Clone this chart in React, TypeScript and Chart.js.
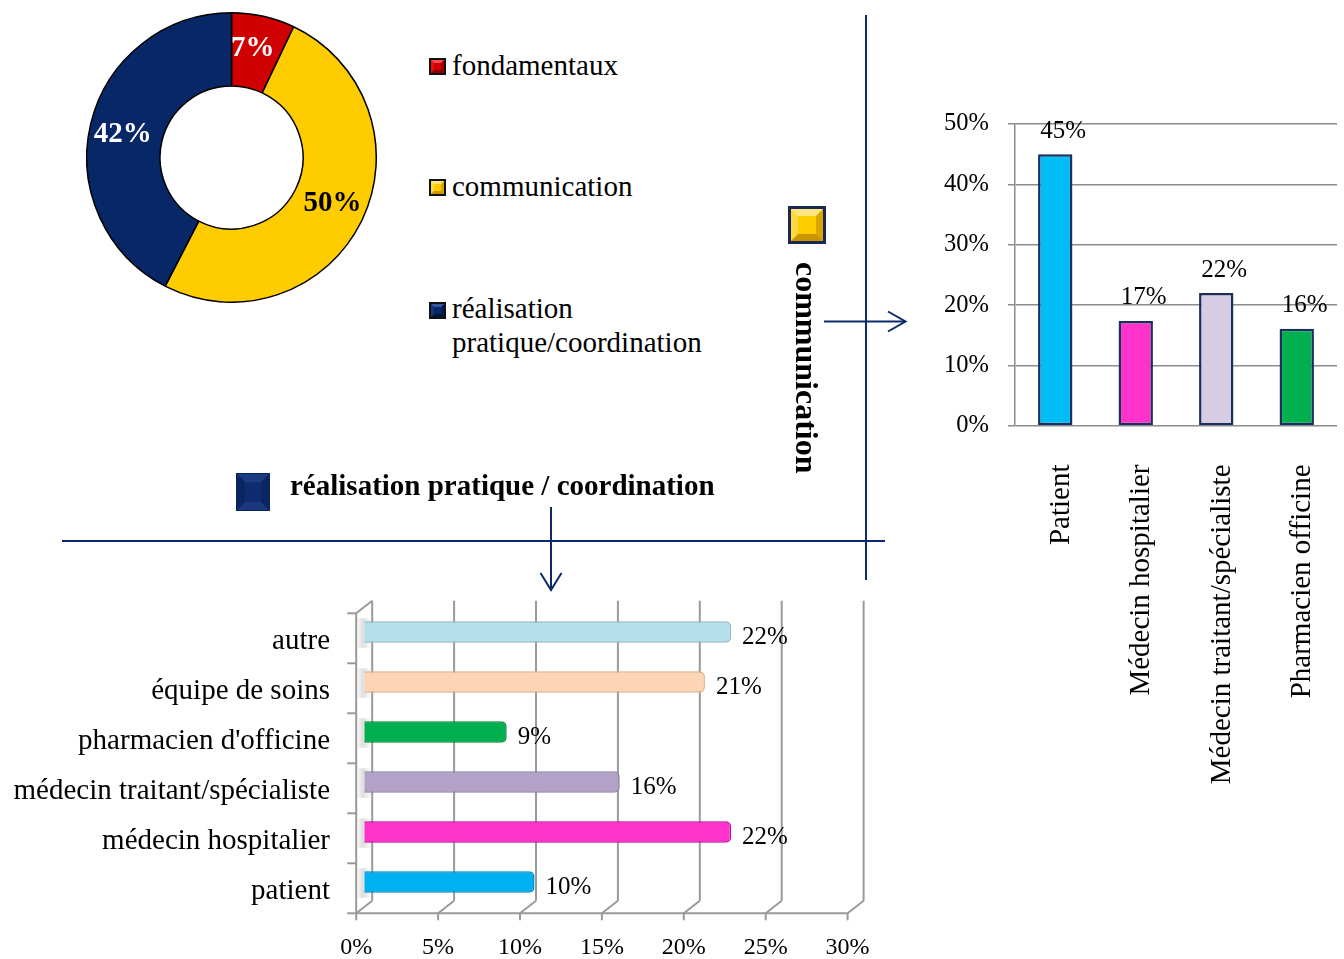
import React, { useEffect, useRef } from "react";
import { Chart, registerables } from "chart.js";

Chart.register(...registerables);

const FONT = '"Liberation Serif", "Times New Roman", Times, serif';
Chart.defaults.font.family = FONT;
Chart.defaults.color = "#000";

// ---------- Data ----------
const pieCategories = ["fondamentaux", "communication", "réalisation pratique/coordination"];
const pieValues = [7, 50, 42];
const pieColors = ["#D00000", "#FFCC00", "#082767"];
const pieLabelColors = ["#FFFFFF", "#000000", "#FFFFFF"];

const commCategories = ["Patient", "Médecin hospitalier", "Médecin traitant/spécialiste", "Pharmacien officine"];
const commValues = [45, 17.4, 22, 16.1];
const commColors = ["#00BDF6", "#FF33CC", "#D6CCE4", "#00B050"];
const commTicks = [0, 10, 20, 30, 40, 50];

const coordCategories = [
  "autre",
  "équipe de soins",
  "pharmacien d'officine",
  "médecin traitant/spécialiste",
  "médecin hospitalier",
  "patient",
];
const coordValues = [22.4, 20.8, 8.7, 15.6, 22.4, 10.4];
const coordColors = ["#B5DFEA", "#FCD5B4", "#00B050", "#B3A2C7", "#FF33CC", "#00B0F0"];
const coordBorders = ["#8DB6C3", "#D9AE8C", "#00893D", "#8F7BA8", "#C70098", "#0089C0"];
const coordTicks = [0, 5, 10, 15, 20, 25, 30];

const NAVY = "#0B2A6B";

const zeroPad = (s: any) => {
  s.paddingLeft = 0;
  s.paddingRight = 0;
  s.paddingTop = 0;
  s.paddingBottom = 0;
};

// ---------- Plugins ----------
const pieLabelPlugin = {
  id: "pieLabels",
  afterDatasetsDraw(chart: any) {
    const ctx = chart.ctx;
    const meta = chart.getDatasetMeta(0);
    ctx.save();
    ctx.font = `bold 29px ${FONT}`;
    ctx.textAlign = "center";
    ctx.textBaseline = "middle";
    meta.data.forEach((arc: any, i: number) => {
      const p = arc.getProps(["x", "y", "startAngle", "endAngle", "innerRadius", "outerRadius"], true);
      const mid = (p.startAngle + p.endAngle) / 2 - 0.03;
      const r = (p.innerRadius + p.outerRadius) / 2 + 3;
      ctx.fillStyle = pieLabelColors[i];
      ctx.fillText(pieValues[i] + "%", p.x + Math.cos(mid) * r, p.y + Math.sin(mid) * r);
    });
    ctx.restore();
  },
};

const commLabelPlugin = {
  id: "commLabels",
  afterDatasetsDraw(chart: any) {
    const ctx = chart.ctx;
    const meta = chart.getDatasetMeta(0);
    ctx.save();
    ctx.font = `25px ${FONT}`;
    ctx.fillStyle = "#000";
    ctx.textAlign = "center";
    ctx.textBaseline = "middle";
    meta.data.forEach((bar: any, i: number) => {
      ctx.fillText(Math.round(commValues[i]) + "%", bar.x + 8, bar.y - 23);
    });
    ctx.restore();
  },
};

const DX = 8;
const DY = 6.3;

const frame3dPlugin = {
  id: "frame3d",
  beforeDatasetsDraw(chart: any) {
    const { ctx, chartArea: ca, scales } = chart;
    const xs = scales.x;
    const ys = scales.y;
    const backTop = ca.top - DY;
    const backBottom = ca.bottom - DY;
    const frontTop = ca.top + DY;
    const frontBottom = ca.bottom + DY;
    const line = (x1: number, y1: number, x2: number, y2: number) => {
      ctx.beginPath();
      ctx.moveTo(x1, y1);
      ctx.lineTo(x2, y2);
      ctx.stroke();
    };
    ctx.save();
    const meta = chart.getDatasetMeta(0);
    const x0 = xs.getPixelForValue(0);
    meta.data.forEach((bar: any) => {
      const h = bar.height;
      const g = ctx.createLinearGradient(x0 - DX, 0, x0 + DX, 0);
      g.addColorStop(0, "rgba(0,0,0,0.0)");
      g.addColorStop(0.4, "rgba(0,0,0,0.13)");
      g.addColorStop(1, "rgba(0,0,0,0)");
      ctx.fillStyle = g;
      ctx.fillRect(x0 - DX + 1, bar.y - h / 2 - 3, 2 * DX, h + 8);
    });
    ctx.strokeStyle = "#9A9A9A";
    ctx.lineWidth = 2;
    xs.ticks.forEach((t: any) => {
      const px = xs.getPixelForValue(t.value);
      line(px + DX, backTop, px + DX, backBottom);
      line(px + DX, backBottom, px - DX, frontBottom);
      line(px - DX, frontBottom, px - DX, frontBottom + 7);
    });
    const xMinPx = xs.getPixelForValue(xs.min);
    const xMaxPx = xs.getPixelForValue(xs.max);
    line(xMinPx - DX, frontBottom, xMaxPx - DX, frontBottom);
    line(x0 - DX, frontTop, x0 - DX, frontBottom);
    line(x0 - DX, frontTop, x0 + DX, backTop);
    const n = ys.ticks.length;
    const band = (ca.bottom - ca.top) / n;
    for (let k = 0; k <= n; k++) {
      const yy = frontTop + k * band;
      line(x0 - DX - 9, yy, x0 - DX, yy);
    }
    ctx.restore();
  },
  afterDatasetsDraw(chart: any) {
    const ctx = chart.ctx;
    const meta = chart.getDatasetMeta(0);
    ctx.save();
    ctx.font = `25px ${FONT}`;
    ctx.fillStyle = "#000";
    ctx.textAlign = "left";
    ctx.textBaseline = "middle";
    meta.data.forEach((bar: any, i: number) => {
      ctx.fillText(Math.round(coordValues[i]) + "%", bar.x + 11, bar.y + 5);
    });
    ctx.restore();
  },
};

// ---------- Components ----------
function DoughnutChart() {
  const ref = useRef<HTMLCanvasElement | null>(null);
  useEffect(() => {
    if (!ref.current) return;
    const chart = new Chart(ref.current, {
      type: "doughnut",
      data: {
        labels: pieCategories,
        datasets: [
          {
            data: pieValues,
            backgroundColor: pieColors,
            borderColor: "#000",
            borderWidth: 1.5,
            hoverBorderWidth: 1.5,
            hoverOffset: 0,
            offset: 0,
          } as any,
        ],
      },
      options: {
        animation: false,
        responsive: false,
        cutout: "49.4%",
        layout: { padding: 0 },
        events: [],
        plugins: { legend: { display: false }, tooltip: { enabled: false } },
      } as any,
      plugins: [pieLabelPlugin],
    });
    return () => chart.destroy();
  }, []);
  return (
    <canvas
      ref={ref}
      width={291}
      height={291}
      style={{ position: "absolute", left: 86, top: 12, width: 291, height: 291 }}
    />
  );
}

function CommChart() {
  const ref = useRef<HTMLCanvasElement | null>(null);
  useEffect(() => {
    if (!ref.current) return;
    const chart = new Chart(ref.current, {
      type: "bar",
      data: {
        labels: commCategories,
        datasets: [
          {
            data: commValues,
            backgroundColor: commColors,
            borderColor: "#1B2F5E",
            borderWidth: 2.5,
            borderSkipped: false,
            barPercentage: 0.427,
            categoryPercentage: 1,
          } as any,
        ],
      },
      options: {
        animation: false,
        responsive: false,
        events: [],
        layout: { padding: { top: 24, right: 7, left: 0, bottom: 0 } },
        plugins: { legend: { display: false }, tooltip: { enabled: false } },
        scales: {
          x: {
            grid: { display: false, drawTicks: false },
            border: { display: false },
            ticks: {
              font: { size: 29, family: FONT },
              color: "#000",
              minRotation: 90,
              maxRotation: 90,
              autoSkip: false,
              padding: 38.5,
              labelOffset: 6,
            },
            afterFit: (s: any) => {
              s.height = 374;
              zeroPad(s);
            },
          },
          y: {
            min: 0,
            max: 50,
            afterBuildTicks: (s: any) => {
              s.ticks = commTicks.map((v) => ({ value: v }));
            },
            ticks: {
              callback: (v: any) => v + "%",
              font: { size: 24.5, family: FONT },
              color: "#000",
              padding: 19,
            },
            grid: { color: "#8C8C8C", lineWidth: 1.5, tickLength: 7, drawTicks: true },
            border: { display: true, color: "#8C8C8C", width: 1.5 },
            afterFit: (s: any) => {
              s.width = 85;
              zeroPad(s);
            },
          },
        },
      } as any,
      plugins: [commLabelPlugin],
    });
    return () => chart.destroy();
  }, []);
  return (
    <canvas
      ref={ref}
      width={414}
      height={700}
      style={{ position: "absolute", left: 930, top: 100, width: 414, height: 700 }}
    />
  );
}

function CoordChart() {
  const ref = useRef<HTMLCanvasElement | null>(null);
  useEffect(() => {
    if (!ref.current) return;
    const chart = new Chart(ref.current, {
      type: "bar",
      data: {
        labels: coordCategories,
        datasets: [
          {
            data: coordValues,
            backgroundColor: coordColors,
            borderColor: coordBorders,
            borderWidth: 1.5,
            borderRadius: 5,
            borderSkipped: "start",
            barPercentage: 0.43,
            categoryPercentage: 1,
          } as any,
        ],
      },
      options: {
        indexAxis: "y",
        animation: false,
        responsive: false,
        events: [],
        layout: { padding: { top: 17, right: 24.4, left: 0, bottom: 0 } },
        plugins: { legend: { display: false }, tooltip: { enabled: false } },
        scales: {
          x: {
            min: 0,
            max: 30,
            afterBuildTicks: (s: any) => {
              s.ticks = coordTicks.map((v) => ({ value: v }));
            },
            ticks: {
              callback: (v: any) => v + "%",
              font: { size: 24, family: FONT },
              color: "#000",
              padding: 26,
              labelOffset: -DX,
            },
            grid: { display: false, drawTicks: false },
            border: { display: false },
            afterFit: (s: any) => {
              s.height = 52;
              zeroPad(s);
            },
          },
          y: {
            ticks: {
              font: { size: 29, family: FONT },
              color: "#000",
              padding: 34.2,
              labelOffset: 9,
              autoSkip: false,
            },
            grid: { display: false, drawTicks: false },
            border: { display: false },
            afterFit: (s: any) => {
              s.width = 364.2;
              zeroPad(s);
            },
          },
        },
      } as any,
      plugins: [frame3dPlugin],
    });
    return () => chart.destroy();
  }, []);
  return (
    <canvas
      ref={ref}
      width={880}
      height={369}
      style={{ position: "absolute", left: 0, top: 590, width: 880, height: 369 }}
    />
  );
}

type BevelProps = {
  left: number;
  top: number;
  w: number;
  h: number;
  outer: string;
  outerW: number;
  bevel: number;
  face: string;
  light: string;
  side: string;
  dark: string;
  side2: string;
};

function BevelSquare(p: BevelProps) {
  return (
    <div
      style={{
        position: "absolute",
        left: p.left,
        top: p.top,
        width: p.w,
        height: p.h,
        boxSizing: "border-box",
        border: `${p.outerW}px solid ${p.outer}`,
        background: p.face,
      }}
    >
      <div
        style={{
          width: "100%",
          height: "100%",
          boxSizing: "border-box",
          borderStyle: "solid",
          borderWidth: p.bevel,
          borderColor: `${p.light} ${p.side} ${p.dark} ${p.side2}`,
          background: p.face,
        }}
      />
    </div>
  );
}

const legendTops = [48, 169, 291];
const legendSquareTops = [58, 179, 302];
const legendBevel = [
  { light: "#FF4A4A", side: "#A00000", dark: "#8A0000", side2: "#E01010" },
  { light: "#FFE680", side: "#D9A600", dark: "#C99600", side2: "#FFD940" },
  { light: "#3658A0", side: "#061C4C", dark: "#04143A", side2: "#16367A" },
];

function Legend() {
  return (
    <>
      {pieCategories.map((c, i) => (
        <React.Fragment key={c}>
          <BevelSquare
            left={429}
            top={legendSquareTops[i]}
            w={17}
            h={17}
            outer="#111"
            outerW={2}
            bevel={3}
            face={pieColors[i]}
            {...legendBevel[i]}
          />
          <div
            style={{
              position: "absolute",
              left: 452,
              top: legendTops[i],
              width: 262,
              fontFamily: FONT,
              fontSize: 29,
              lineHeight: "34px",
              color: "#000",
            }}
          >
            {c}
          </div>
        </React.Fragment>
      ))}
    </>
  );
}

function Overlay() {
  return (
    <svg
      width={1344}
      height={959}
      style={{ position: "absolute", left: 0, top: 0, pointerEvents: "none" }}
    >
      <g stroke={NAVY} strokeWidth={2} fill="none">
        <line x1={866} y1={15} x2={866} y2={580} />
        <line x1={62} y1={541} x2={885} y2={541} />
        <line x1={824} y1={321.5} x2={905} y2={321.5} />
        <polyline points="888,311.5 905.5,321.5 888,331.5" />
        <line x1={551} y1={507} x2={551} y2={589} />
        <polyline points="540.5,573 551,590 561.5,573" />
      </g>
    </svg>
  );
}

export default function App() {
  return (
    <div
      style={{
        position: "absolute",
        left: 0,
        top: 0,
        width: 1344,
        height: 959,
        background: "#fff",
        overflow: "hidden",
        fontFamily: FONT,
      }}
    >
      <DoughnutChart />
      <Legend />
      <CommChart />
      <CoordChart />
      <Overlay />
      <BevelSquare
        left={788}
        top={206}
        w={38}
        h={38}
        outer="#1B2A55"
        outerW={3}
        bevel={7}
        face="#FFCC00"
        light="#FFE680"
        side="#D9A600"
        dark="#C99600"
        side2="#FFD940"
      />
      <div
        style={{
          position: "absolute",
          left: 823,
          top: 262,
          transform: "rotate(90deg)",
          transformOrigin: "0 0",
          whiteSpace: "nowrap",
          fontFamily: FONT,
          fontWeight: "bold",
          fontSize: 32,
          lineHeight: "32px",
          color: "#000",
        }}
      >
        communication
      </div>
      <BevelSquare
        left={236}
        top={473}
        w={34}
        h={38}
        outer="#0A2260"
        outerW={1}
        bevel={8}
        face="#0E2C6E"
        light="#1C3C80"
        side="#0A2560"
        dark="#1A397C"
        side2="#0A2560"
      />
      <div
        style={{
          position: "absolute",
          left: 290,
          top: 468,
          whiteSpace: "nowrap",
          fontFamily: FONT,
          fontWeight: "bold",
          fontSize: 29,
          lineHeight: "34px",
          color: "#000",
        }}
      >
        réalisation pratique / coordination
      </div>
    </div>
  );
}
